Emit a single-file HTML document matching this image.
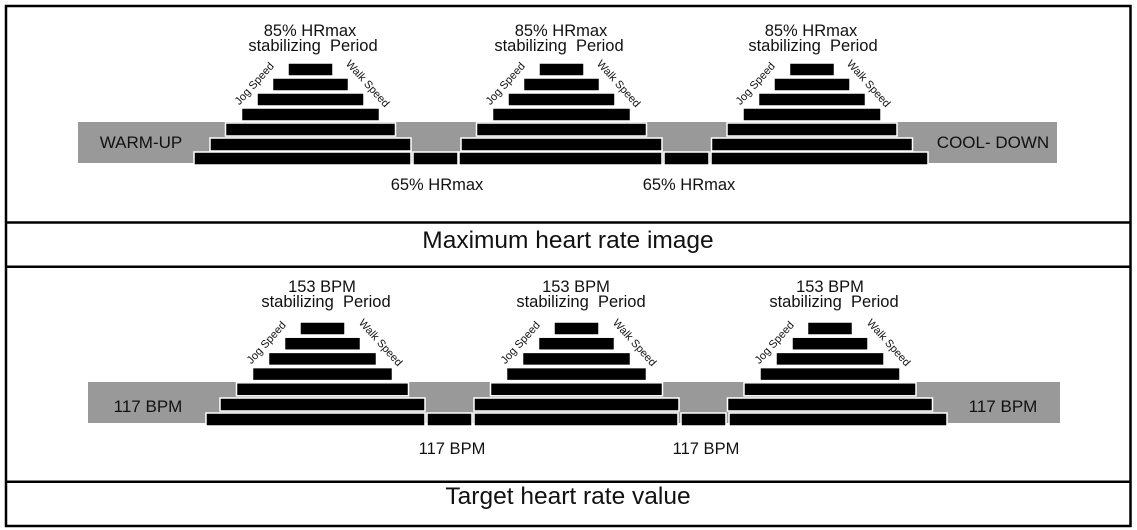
<!DOCTYPE html>
<html><head><meta charset="utf-8"><style>
html,body{margin:0;padding:0;background:#fff}
svg{display:block}
text{font-family:"Liberation Sans",Arial,sans-serif;fill:#111;white-space:pre}
</style></head><body>
<svg width="1137" height="530" viewBox="0 0 1137 530" xmlns="http://www.w3.org/2000/svg">
<defs>
<g id="pt">
<rect x="-22.5" y="0" width="45" height="13"/>
<rect x="-38" y="15" width="76" height="13"/>
<rect x="-53.5" y="30" width="107" height="13"/>
<rect x="-69" y="45" width="138" height="13"/>
<rect x="-85" y="60" width="170" height="13"/>
<rect x="-100.5" y="75" width="201" height="13"/>
</g>
<g id="pb">
<rect x="-22.5" y="0" width="45" height="13"/>
<rect x="-38" y="15.2" width="76" height="13"/>
<rect x="-54" y="30.4" width="108" height="13"/>
<rect x="-70" y="45.6" width="140" height="13"/>
<rect x="-86" y="60.8" width="172" height="13"/>
<rect x="-102.5" y="76" width="205" height="13"/>
</g>
</defs>
<rect x="6" y="6" width="1124.5" height="520" fill="none" stroke="#000" stroke-width="2.5"/>
<line x1="6" y1="222.5" x2="1130" y2="222.5" stroke="#000" stroke-width="2.5"/>
<line x1="6" y1="266.7" x2="1130" y2="266.7" stroke="#000" stroke-width="2.5"/>
<line x1="6" y1="481.7" x2="1130" y2="481.7" stroke="#000" stroke-width="2.5"/>

<rect x="78" y="122" width="979" height="41" fill="#999"/>
<g fill="#000" stroke="#fff" stroke-width="1.5">
<use href="#pt" x="310.5" y="63"/>
<use href="#pt" x="561.5" y="63"/>
<use href="#pt" x="812" y="63"/>
<rect x="194" y="152" width="217" height="13"/>
<rect x="459" y="152" width="203" height="13"/>
<rect x="711" y="152" width="217" height="13"/>
<rect x="413" y="152" width="45" height="13"/>
<rect x="664" y="152" width="45" height="13"/>
</g>
<g font-size="16.5" text-anchor="middle">
<text x="310" y="36">85% HRmax</text><text x="313" y="51" xml:space="preserve">stabilizing  Period</text>
<text x="561" y="36">85% HRmax</text><text x="559" y="51" xml:space="preserve">stabilizing  Period</text>
<text x="811" y="36">85% HRmax</text><text x="813" y="51" xml:space="preserve">stabilizing  Period</text>
<text x="141" y="148" font-size="17">WARM-UP</text>
<text x="993" y="148" font-size="17">COOL- DOWN</text>
<text x="437" y="190">65% HRmax</text>
<text x="689" y="190">65% HRmax</text>
</g>
<g font-size="11" text-anchor="middle" fill="#222">
<text transform="translate(257,86) rotate(-48)">Jog Speed</text>
<text transform="translate(365,86) rotate(48)">Walk Speed</text>
<text transform="translate(508,86) rotate(-48)">Jog Speed</text>
<text transform="translate(616,86) rotate(48)">Walk Speed</text>
<text transform="translate(758,86) rotate(-48)">Jog Speed</text>
<text transform="translate(866,86) rotate(48)">Walk Speed</text>
</g>
<text x="568" y="248" font-size="24.5" text-anchor="middle">Maximum heart rate image</text>

<rect x="88" y="382" width="972" height="41" fill="#999"/>
<g fill="#000" stroke="#fff" stroke-width="1.5">
<use href="#pb" x="322.5" y="322"/>
<use href="#pb" x="576.5" y="322"/>
<use href="#pb" x="830" y="322"/>
<rect x="206" y="413" width="219" height="13"/>
<rect x="474" y="413" width="204" height="13"/>
<rect x="729" y="413" width="218" height="13"/>
<rect x="427" y="413" width="45" height="13"/>
<rect x="681" y="413" width="45" height="13"/>
</g>
<g font-size="16.5" text-anchor="middle">
<text x="322" y="292">153 BPM</text><text x="326" y="307" xml:space="preserve">stabilizing  Period</text>
<text x="576" y="292">153 BPM</text><text x="581" y="307" xml:space="preserve">stabilizing  Period</text>
<text x="830" y="292">153 BPM</text><text x="834" y="307" xml:space="preserve">stabilizing  Period</text>
<text x="148" y="412" font-size="17">117 BPM</text>
<text x="1003" y="412" font-size="17">117 BPM</text>
<text x="452" y="454">117 BPM</text>
<text x="706" y="454">117 BPM</text>
</g>
<g font-size="11" text-anchor="middle" fill="#222">
<text transform="translate(269,345) rotate(-48)">Jog Speed</text>
<text transform="translate(378,345) rotate(48)">Walk Speed</text>
<text transform="translate(523,345) rotate(-48)">Jog Speed</text>
<text transform="translate(632,345) rotate(48)">Walk Speed</text>
<text transform="translate(777,345) rotate(-48)">Jog Speed</text>
<text transform="translate(886,345) rotate(48)">Walk Speed</text>
</g>
<text x="568" y="504" font-size="24.5" text-anchor="middle">Target heart rate value</text>
</svg>
</body></html>
